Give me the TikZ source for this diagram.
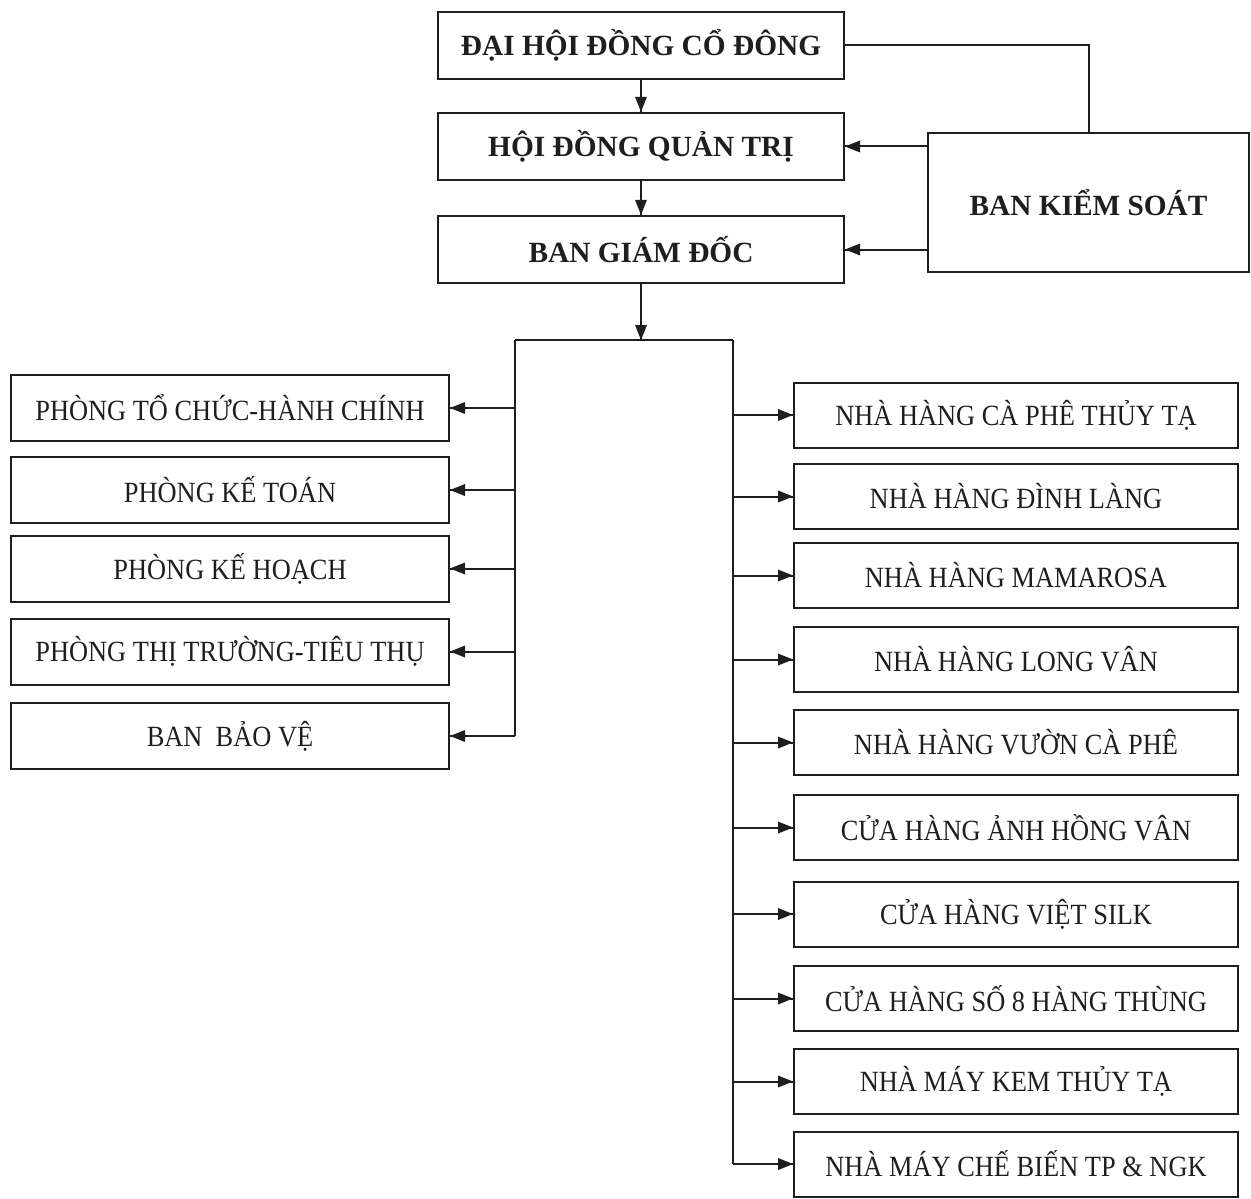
\documentclass[tikz,border=0pt]{standalone}
\usepackage{fontspec}
\setmainfont{Liberation Serif}
\newfontfamily\narrowserif[FakeStretch=0.9]{Liberation Serif}
\definecolor{inkgray}{RGB}{30,30,30}

\tikzset{every picture/.style={line width=0.75pt}}
\tikzset{
  headbox/.style={draw=inkgray, line width=1.5, inner sep=0.75pt, minimum width=304.5pt, minimum height=50.5pt, text=inkgray, font=\fontsize{22}{26}\selectfont\bfseries},
  ksbox/.style={draw=inkgray, line width=1.5, inner sep=0.75pt, minimum width=240.75pt, minimum height=104.25pt, text=inkgray, font=\fontsize{22}{26}\selectfont\bfseries},
  deptbox/.style={draw=inkgray, line width=1.5, inner sep=0.75pt, minimum width=328.5pt, minimum height=49.5pt, text=inkgray, font=\narrowserif\fontsize{22}{26}\selectfont},
  unitbox/.style={draw=inkgray, line width=1.5, inner sep=0.75pt, minimum width=333pt, minimum height=48.75pt, text=inkgray, font=\narrowserif\fontsize{22}{26}\selectfont},
  connector/.style={draw=inkgray, line width=1.5},
  arrowhead/.style={fill=inkgray, line width=0.08, draw opacity=0}
}

\begin{document}
\begin{tikzpicture}[x=0.75pt,y=0.75pt,yscale=-1,xscale=1]
	%set diagram size: 1251 x 1198
	\useasboundingbox (0,0) rectangle (1251,1198);
	
	%Shape: Rectangle [id:top]
	\node [headbox] (dhdcd) at (641,45.5) {ĐẠI HỘI ĐỒNG CỔ ĐÔNG};
	\node [headbox] (hdqt) at (641,146.5) {HỘI ĐỒNG QUẢN TRỊ};
	\node [headbox] (bgd) at (641,249.5) {BAN GIÁM ĐỐC};
	\node [ksbox] (bks) at (1088.5,202.5) {BAN KIỂM SOÁT};
	
	%Shape: Rectangle [id:left]
	\node [deptbox] (tcch) at (230,408) {PHÒNG TỔ CHỨC-HÀNH CHÍNH};
	\node [deptbox] (ketoan) at (230,490) {PHÒNG KẾ TOÁN};
	\node [deptbox] (kehoach) at (230,568.5) {PHÒNG KẾ HOẠCH};
	\node [deptbox] (thitruong) at (230,651.5) {PHÒNG THỊ TRƯỜNG-TIÊU THỤ};
	\node [deptbox] (baove) at (230,736) {BAN\ \ BẢO VỆ};
	
	%Shape: Rectangle [id:right]
	\node [unitbox] (cpty) at (1016,415) {NHÀ HÀNG CÀ PHÊ THỦY TẠ};
	\node [unitbox] (dinhlang) at (1016,496.5) {NHÀ HÀNG ĐÌNH LÀNG};
	\node [unitbox] (mamarosa) at (1016,575.5) {NHÀ HÀNG MAMAROSA};
	\node [unitbox] (longvan) at (1016,659.5) {NHÀ HÀNG LONG VÂN};
	\node [unitbox] (vuoncp) at (1016,742.5) {NHÀ HÀNG VƯỜN CÀ PHÊ};
	\node [unitbox] (honvan) at (1016,827.5) {CỬA HÀNG ẢNH HỒNG VÂN};
	\node [unitbox] (vietsilk) at (1016,914) {CỬA HÀNG VIỆT SILK};
	\node [unitbox] (hangthung) at (1016,998.5) {CỬA HÀNG SỐ 8 HÀNG THÙNG};
	\node [unitbox] (kemty) at (1016,1081.5) {NHÀ MÁY KEM THỦY TẠ};
	\node [unitbox] (chebien) at (1016,1164) {NHÀ MÁY CHẾ BIẾN TP \& NGK};
	
	%Straight Lines [id:frame]
	\coordinate (frameL) at (515,340);
	\coordinate (frameR) at (733,340);
	\coordinate (frameIn) at (bgd.south |- frameL);
	\draw [connector] (frameL) -- (frameR);
	\draw [connector] (frameL) -- (frameL |- baove.east);
	\draw [connector] (frameR) -- (frameR |- chebien.west);
	
	%Straight Lines [id:top]
	\draw [connector] (dhdcd.south) -- (hdqt.north);
	\draw [shift={(hdqt.north)}, rotate=-90] [arrowhead] (15,-6) -- (0,0) -- (15,6) -- cycle;
	\draw [connector] (hdqt.south) -- (bgd.north);
	\draw [shift={(bgd.north)}, rotate=-90] [arrowhead] (15,-6) -- (0,0) -- (15,6) -- cycle;
	\draw [connector] (bgd.south) -- (frameIn);
	\draw [shift={(frameIn)}, rotate=-90] [arrowhead] (15,-6) -- (0,0) -- (15,6) -- cycle;
	\draw [connector] (dhdcd.east) -| (bks.north);
	\draw [connector] (bks.west |- hdqt.east) -- (hdqt.east);
	\draw [shift={(hdqt.east)}, rotate=0] [arrowhead] (15,-6) -- (0,0) -- (15,6) -- cycle;
	\draw [connector] (bks.west |- bgd.east) -- (bgd.east);
	\draw [shift={(bgd.east)}, rotate=0] [arrowhead] (15,-6) -- (0,0) -- (15,6) -- cycle;
	
	%Straight Lines [id:left]
	\draw [connector] (frameL |- tcch.east) -- (tcch.east);
	\draw [shift={(tcch.east)}, rotate=0] [arrowhead] (15,-6) -- (0,0) -- (15,6) -- cycle;
	\draw [connector] (frameL |- ketoan.east) -- (ketoan.east);
	\draw [shift={(ketoan.east)}, rotate=0] [arrowhead] (15,-6) -- (0,0) -- (15,6) -- cycle;
	\draw [connector] (frameL |- kehoach.east) -- (kehoach.east);
	\draw [shift={(kehoach.east)}, rotate=0] [arrowhead] (15,-6) -- (0,0) -- (15,6) -- cycle;
	\draw [connector] (frameL |- thitruong.east) -- (thitruong.east);
	\draw [shift={(thitruong.east)}, rotate=0] [arrowhead] (15,-6) -- (0,0) -- (15,6) -- cycle;
	\draw [connector] (frameL |- baove.east) -- (baove.east);
	\draw [shift={(baove.east)}, rotate=0] [arrowhead] (15,-6) -- (0,0) -- (15,6) -- cycle;
	
	%Straight Lines [id:right]
	\draw [connector] (frameR |- cpty.west) -- (cpty.west);
	\draw [shift={(cpty.west)}, rotate=180] [arrowhead] (15,-6) -- (0,0) -- (15,6) -- cycle;
	\draw [connector] (frameR |- dinhlang.west) -- (dinhlang.west);
	\draw [shift={(dinhlang.west)}, rotate=180] [arrowhead] (15,-6) -- (0,0) -- (15,6) -- cycle;
	\draw [connector] (frameR |- mamarosa.west) -- (mamarosa.west);
	\draw [shift={(mamarosa.west)}, rotate=180] [arrowhead] (15,-6) -- (0,0) -- (15,6) -- cycle;
	\draw [connector] (frameR |- longvan.west) -- (longvan.west);
	\draw [shift={(longvan.west)}, rotate=180] [arrowhead] (15,-6) -- (0,0) -- (15,6) -- cycle;
	\draw [connector] (frameR |- vuoncp.west) -- (vuoncp.west);
	\draw [shift={(vuoncp.west)}, rotate=180] [arrowhead] (15,-6) -- (0,0) -- (15,6) -- cycle;
	\draw [connector] (frameR |- honvan.west) -- (honvan.west);
	\draw [shift={(honvan.west)}, rotate=180] [arrowhead] (15,-6) -- (0,0) -- (15,6) -- cycle;
	\draw [connector] (frameR |- vietsilk.west) -- (vietsilk.west);
	\draw [shift={(vietsilk.west)}, rotate=180] [arrowhead] (15,-6) -- (0,0) -- (15,6) -- cycle;
	\draw [connector] (frameR |- hangthung.west) -- (hangthung.west);
	\draw [shift={(hangthung.west)}, rotate=180] [arrowhead] (15,-6) -- (0,0) -- (15,6) -- cycle;
	\draw [connector] (frameR |- kemty.west) -- (kemty.west);
	\draw [shift={(kemty.west)}, rotate=180] [arrowhead] (15,-6) -- (0,0) -- (15,6) -- cycle;
	\draw [connector] (frameR |- chebien.west) -- (chebien.west);
	\draw [shift={(chebien.west)}, rotate=180] [arrowhead] (15,-6) -- (0,0) -- (15,6) -- cycle;
	
\end{tikzpicture}
\end{document}
